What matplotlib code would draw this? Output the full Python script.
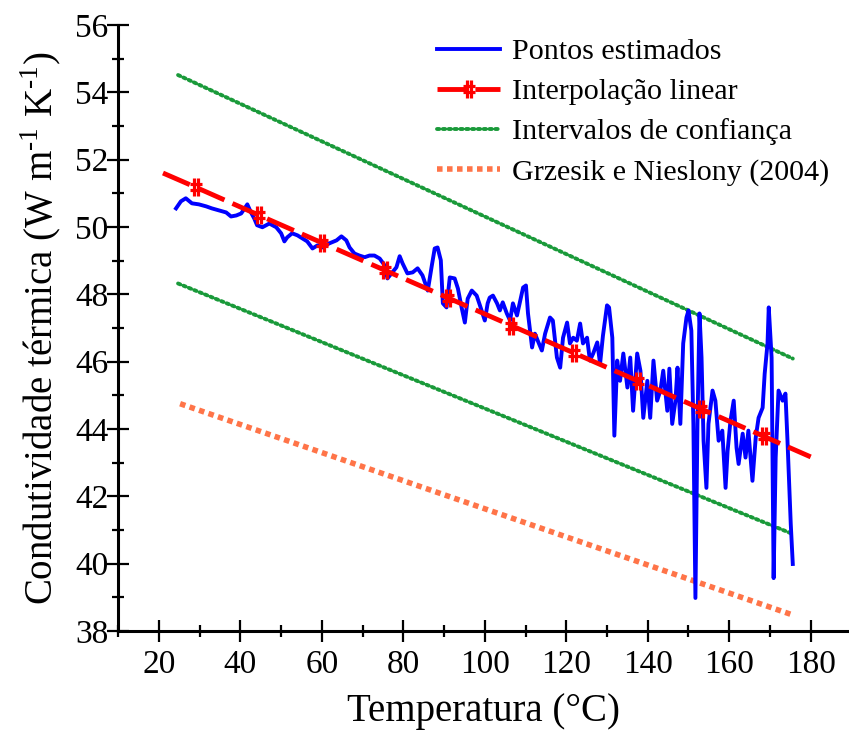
import matplotlib
matplotlib.use("Agg")
import matplotlib.pyplot as plt
from matplotlib.path import Path
from matplotlib.ticker import MultipleLocator

plt.rcParams['font.family'] = ['Liberation Serif', 'DejaVu Serif']
plt.rcParams['mathtext.fontset'] = 'custom'
plt.rcParams['mathtext.rm'] = 'Liberation Serif'

# condutividade estimada (pontos)
temp_est = [24.2, 25.4, 26.6, 28.1, 29.8, 31.6, 33.0, 34.8, 36.5, 37.7, 39.0, 40.2,
            41.7, 42.6, 43.4, 44.1, 45.4, 47.1, 48.8, 50.0, 50.8, 51.5, 52.7, 54.0,
            55.2, 56.4, 57.7, 58.9, 60.1, 61.8, 63.6, 64.8, 66.0, 66.8, 68.0, 69.2,
            70.5, 71.7, 72.9, 74.2, 75.4, 76.1, 77.1, 78.3, 79.1, 79.8, 81.0, 82.3,
            83.5, 84.7, 86.0, 87.0, 87.7, 88.4, 89.2, 89.7, 90.6, 91.4, 92.6, 93.4,
            94.3, 95.1, 95.8, 96.8, 98.0, 98.8, 100.0, 100.7, 101.2, 102.0, 103.0, 103.7,
            104.4, 105.4, 106.2, 106.9, 107.9, 108.6, 109.4, 110.1, 110.6, 111.6, 112.3, 113.0,
            114.0, 114.8, 116.0, 116.7, 117.7, 118.5, 119.2, 120.2, 120.9, 121.7, 122.6, 123.4,
            124.1, 125.1, 125.8, 126.6, 127.6, 128.3, 129.0, 130.0, 130.5, 131.3, 131.8, 132.5,
            133.2, 134.0, 135.0, 135.7, 136.4, 137.4, 138.2, 138.9, 139.9, 140.6, 141.4, 142.3,
            143.1, 143.8, 144.8, 145.3, 146.0, 146.8, 147.3, 148.0, 148.7, 149.5, 150.0, 150.7,
            151.2, 151.7, 152.2, 152.7, 153.2, 153.7, 154.4, 154.9, 155.9, 156.6, 157.4, 158.3,
            159.1, 159.6, 160.3, 161.1, 161.8, 162.3, 163.3, 164.0, 164.7, 165.7, 166.5, 167.2,
            168.2, 168.7, 169.4, 169.7, 170.4, 170.9, 171.4, 172.1, 173.1, 173.8, 174.3, 175.1,
            175.6]
k_est = [50.55, 50.76, 50.85, 50.70, 50.67, 50.61, 50.55, 50.49, 50.43, 50.31, 50.34, 50.40,
         50.67, 50.43, 50.25, 50.05, 49.99, 50.10, 49.99, 49.81, 49.57, 49.69, 49.81, 49.75,
         49.66, 49.57, 49.36, 49.45, 49.39, 49.51, 49.60, 49.72, 49.60, 49.39, 49.21, 49.15,
         49.10, 49.15, 49.15, 49.06, 48.86, 48.47, 48.62, 48.80, 49.13, 48.92, 48.62, 48.65,
         48.77, 48.56, 48.11, 48.86, 49.36, 49.39, 49.01, 47.73, 47.61, 48.50, 48.47, 48.17,
         47.61, 47.16, 47.87, 48.11, 47.96, 47.67, 47.22, 47.73, 47.90, 47.96, 47.73, 47.52,
         47.76, 47.43, 47.22, 47.73, 47.37, 47.76, 48.20, 48.26, 47.43, 46.42, 46.83, 46.62,
         46.33, 46.83, 47.31, 47.22, 46.12, 45.82, 46.71, 47.16, 46.54, 46.71, 46.62, 47.13,
         46.54, 46.71, 46.03, 46.24, 46.57, 45.94, 46.77, 47.67, 47.61, 46.71, 43.80, 46.03,
         45.43, 46.24, 45.23, 46.12, 44.54, 46.24, 45.73, 44.33, 45.43, 44.33, 46.03, 44.84,
         45.14, 45.73, 44.54, 45.79, 44.15, 44.84, 45.82, 44.15, 46.54, 47.31, 47.52, 46.92,
         44.15, 38.98, 44.15, 47.43, 46.12, 43.65, 42.25, 44.15, 45.14, 44.84, 43.65, 43.95,
         42.25, 43.35, 44.24, 44.84, 43.44, 42.96, 43.86, 43.15, 43.95, 42.46, 43.74, 44.33,
         44.63, 45.64, 46.54, 47.61, 46.12, 39.57, 43.15, 45.14, 44.84, 45.05, 43.65, 41.18,
         39.99]

# reta de interpolação linear
temp_lin = [21, 29, 44.5, 60, 75.5, 91, 106.5, 122, 137.5, 153, 168.5, 180]
k_lin = [51.60, 51.18, 50.35, 49.53, 48.71, 47.89, 47.07, 46.25, 45.43, 44.60, 43.78, 43.17]

# intervalos de confiança
temp_ic = [24.7, 175.6]
k_ic_sup = [54.51, 46.09]
k_ic_inf = [48.32, 40.88]

# Grzesik e Nieslony (2004)
temp_gn = [25.2, 175.0]
k_gn = [44.75, 38.50]

# marcador em forma de "#"
hash_marker = Path(
    [(-0.25, -1), (-0.25, 1), (0.25, -1), (0.25, 1),
     (-0.7, -0.3), (0.7, -0.3), (-0.7, 0.3), (0.7, 0.3)],
    [Path.MOVETO, Path.LINETO] * 4)

fig = plt.figure(figsize=(8.49, 7.38), dpi=100)
ax = fig.add_axes([0.1392, 0.1450, 1.0 - 0.1392, 0.8213])

ax.plot(temp_est, k_est, color='#0000ff', lw=2.8, label='Pontos estimados', zorder=3)
ax.plot(temp_lin, k_lin, color='#ff0000', lw=3.5, dashes=(6, 1.8),
        marker=hash_marker, markersize=13, markeredgewidth=2.3,
        markevery=list(range(1, 11)), label='Interpolação linear', zorder=4)
ax.plot(temp_ic, k_ic_sup, color='#1a9a3a', lw=2.8, linestyle=(0, (0.6, 0.9)),
        dash_capstyle='round', label='Intervalos de confiança')
ax.plot(temp_ic, k_ic_inf, color='#1a9a3a', lw=2.8, linestyle=(0, (0.6, 0.9)),
        dash_capstyle='round')
ax.plot(temp_gn, k_gn, color='#ff7448', lw=4.0, linestyle=(0, (1.0, 0.8)),
        label='Grzesik e Nieslony (2004)')

ax.set_xlim(10, 189.4)
ax.set_ylim(38, 56)
ax.xaxis.set_major_locator(MultipleLocator(20))
ax.xaxis.set_minor_locator(MultipleLocator(10))
ax.yaxis.set_major_locator(MultipleLocator(2))
ax.yaxis.set_minor_locator(MultipleLocator(1))
ax.set_xticks(range(20, 181, 20))

ax.spines['top'].set_visible(False)
ax.spines['right'].set_visible(False)
for s in ('left', 'bottom'):
    ax.spines[s].set_linewidth(2.2)

ax.tick_params(which='major', direction='inout', length=16, width=1.6,
               labelsize=24, pad=-1)
ax.tick_params(which='minor', direction='inout', length=8, width=1.6)
ax.tick_params(axis='x', which='major', pad=5)

ax.set_xlabel('Temperatura (°C)', fontsize=28, labelpad=10)
ax.set_ylabel('Condutividade térmica (W m$^{\\mathregular{\u2010}\\mathregular{1}}$ '
              'K$^{\\mathregular{\u2010}\\mathregular{1}}$)',
              fontsize=28, labelpad=8)

ax.legend(loc='upper left', bbox_to_anchor=(437 / 849, 1 - 38 / 738),
          bbox_transform=fig.transFigure, frameon=False, fontsize=21.6,
          handlelength=2.1, handletextpad=0.4, labelspacing=0.44, borderpad=0,
          borderaxespad=0)

fig.savefig('out.png', dpi=100)
